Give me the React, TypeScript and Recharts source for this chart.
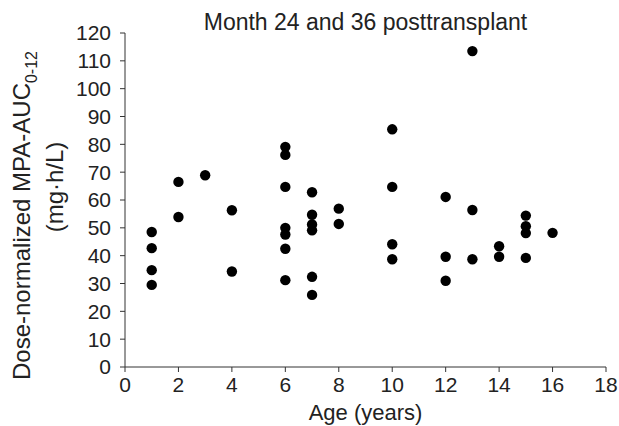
import { ScatterChart, Scatter, XAxis, YAxis } from 'recharts';

// age (years) of each patient sample and its dose-normalized MPA-AUC0-12 (mg·h/L)
const ages = [
  1, 1, 1, 1,
  2, 2,
  3,
  4, 4,
  6, 6, 6, 6, 6, 6, 6,
  7, 7, 7, 7, 7, 7,
  8, 8,
  10, 10, 10, 10,
  12, 12, 12,
  13, 13, 13,
  14, 14,
  15, 15, 15, 15,
  16,
];
const auc = [
  48.5, 42.7, 34.8, 29.5,
  66.5, 53.9,
  68.9,
  56.3, 34.3,
  79.1, 76.2, 64.7, 50.0, 47.6, 42.5, 31.2,
  62.8, 54.7, 51.2, 49.1, 32.4, 25.9,
  56.9, 51.4,
  85.4, 64.7, 44.1, 38.7,
  61.1, 39.6, 31.0,
  113.5, 56.4, 38.7,
  43.4, 39.6,
  54.4, 50.6, 48.1, 39.2,
  48.2,
];
const xTicks = [0, 2, 4, 6, 8, 10, 12, 14, 16, 18];
const yTicks = [0, 10, 20, 30, 40, 50, 60, 70, 80, 90, 100, 110, 120];

const title = 'Month 24 and 36 posttransplant';

const points = ages.map((age, i) => ({ age, auc: auc[i] }));

const FONT = '"Liberation Sans", Arial, sans-serif';
const INK = '#222';

function YLabel() {
  return (
    <g fontFamily={FONT} fill={INK}>
      <text transform="translate(30,380) rotate(-90)" fontSize={24} textAnchor="start">
        Dose-normalized MPA-AUC
        <tspan fontSize={16} dy={7}>0-12</tspan>
      </text>
      <text transform="translate(63,187) rotate(-90)" fontSize={24} textAnchor="middle">
        (mg·h/L)
      </text>
    </g>
  );
}

const Dot = (props: any) => <circle cx={props.cx} cy={props.cy} r={5.2} fill="#000" />;

export default function App() {
  return (
    <div style={{ position: 'absolute', left: 0, top: 0, width: 619, height: 426, background: '#fff' }}>
      <div
        style={{
          position: 'absolute',
          left: 125,
          width: 481,
          top: 8,
          textAlign: 'center',
          fontFamily: FONT,
          fontSize: 23,
          color: INK,
          lineHeight: '28px',
        }}
      >
        {title}
      </div>
      <ScatterChart width={619} height={426} margin={{ top: 33, right: 13, bottom: 19, left: 0 }}>
        <XAxis
          type="number"
          dataKey="age"
          domain={[0, 18]}
          ticks={xTicks}
          interval={0}
          height={40}
          tickSize={5}
          tickMargin={5}
          stroke="#333"
          tick={{ fontFamily: FONT, fontSize: 21, fill: INK }}
          label={{ value: 'Age (years)', position: 'bottom', offset: -3, style: { fontFamily: FONT, fontSize: 22, fill: INK } }}
        />
        <YAxis
          type="number"
          dataKey="auc"
          domain={[0, 120]}
          ticks={yTicks}
          interval={0}
          width={125}
          tickSize={5}
          tickMargin={9}
          stroke="#333"
          tick={{ fontFamily: FONT, fontSize: 21, fill: INK }}
          label={{ content: () => <YLabel /> }}
        />
        <Scatter data={points} fill="#000" shape={Dot} isAnimationActive={false} />
      </ScatterChart>
    </div>
  );
}
